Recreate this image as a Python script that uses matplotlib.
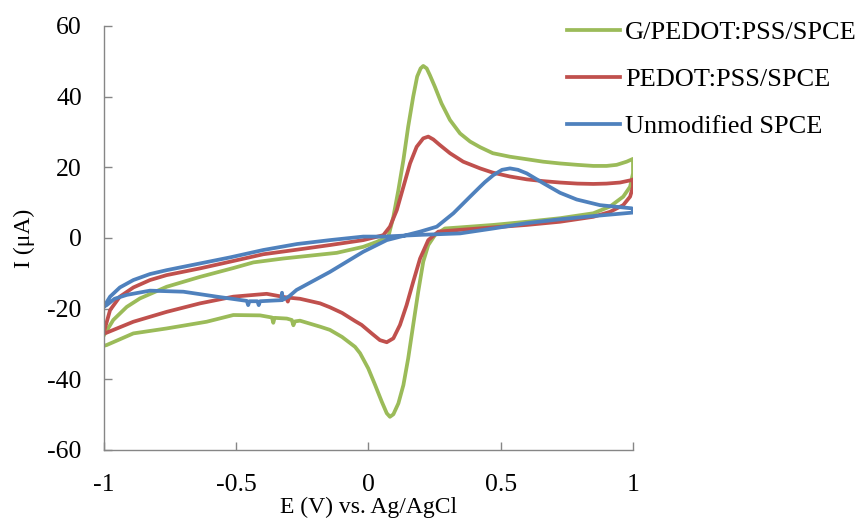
import matplotlib
matplotlib.use("Agg")
import matplotlib.pyplot as plt

plt.rcParams['font.family'] = ['Liberation Serif', 'DejaVu Serif']
plt.rcParams['axes.unicode_minus'] = False

# Cyclic voltammograms, each loop listed in scan order (E in V, I in uA)
g_E = [-1.0, -0.965, -0.914, -0.864, -0.763, -0.637, -0.511, -0.435, -0.322, -0.196,
       -0.12, -0.02, 0.031, 0.075, 0.094, 0.113, 0.132, 0.150, 0.169, 0.184,
       0.197, 0.207, 0.220, 0.232, 0.251, 0.276, 0.308, 0.346, 0.384, 0.422,
       0.47, 0.535, 0.598, 0.66, 0.724, 0.79, 0.85, 0.9, 0.938, 0.976,
       1.0, 1.0, 0.989, 0.963, 0.913, 0.85, 0.724, 0.598, 0.472, 0.346,
       0.289, 0.251, 0.226, 0.207, 0.188, 0.169, 0.150, 0.132, 0.113, 0.094,
       0.081, 0.069, 0.050, 0.025, -0.001, -0.032, -0.051, -0.1, -0.146, -0.183,
       -0.259, -0.278, -0.284, -0.29, -0.309, -0.355, -0.36, -0.365, -0.41, -0.511,
       -0.612, -0.763, -0.889, -0.99, -1.0]
g_I = [-27.5, -23.2, -19.5, -17.1, -13.8, -11.0, -8.5, -6.9, -5.8, -4.8,
       -4.2, -2.5, -1.1, 0.4, 6.0, 13.6, 22.1, 31.5, 40.0, 45.7,
       48.0, 48.7, 48.0, 46.1, 42.8, 38.1, 33.4, 29.6, 27.3, 25.7,
       24.0, 23.0, 22.3, 21.6, 21.1, 20.7, 20.4, 20.4, 20.7, 21.6,
       22.4, 18.3, 14.5, 11.7, 8.9, 7.0, 5.6, 4.6, 3.7, 3.0,
       2.7, 0.8, -2.0, -6.7, -15.2, -24.6, -34.1, -41.6, -46.8, -49.9,
       -50.6, -49.6, -46.3, -41.6, -36.9, -32.6, -30.8, -28.0, -26.0, -25.1,
       -23.4, -23.6, -24.7, -23.2, -22.8, -22.6, -24.0, -22.5, -21.9, -21.8,
       -23.7, -25.6, -27.0, -30.3, -30.5]

r_E = [-1.0, -0.977, -0.94, -0.889, -0.826, -0.763, -0.637, -0.511, -0.398, -0.27,
       -0.146, -0.02, 0.056, 0.081, 0.107, 0.132, 0.157, 0.182, 0.207, 0.226,
       0.245, 0.270, 0.308, 0.358, 0.422, 0.47, 0.535, 0.598, 0.66, 0.724,
       0.79, 0.85, 0.9, 0.951, 0.995, 1.0, 1.0, 0.989, 0.963, 0.913,
       0.85, 0.724, 0.598, 0.472, 0.346, 0.264, 0.226, 0.195, 0.169, 0.144,
       0.119, 0.094, 0.069, 0.043, 0.012, -0.026, -0.051, -0.1, -0.146, -0.183,
       -0.259, -0.3, -0.305, -0.312, -0.385, -0.511, -0.637, -0.763, -0.889, -0.99,
       -1.0]
r_I = [-26.5, -20.4, -16.6, -14.0, -11.9, -10.5, -8.6, -6.5, -4.6, -3.3,
       -2.0, -0.6, 0.8, 3.2, 7.9, 14.5, 21.1, 25.8, 28.2, 28.7,
       27.9, 26.3, 24.0, 21.6, 19.7, 18.5, 17.4, 16.6, 16.1, 15.7,
       15.4, 15.3, 15.4, 15.7, 16.4, 16.6, 14.5, 11.7, 9.3, 7.4,
       6.0, 4.6, 3.7, 3.0, 2.3, 1.8, -0.6, -5.8, -12.4, -19.0,
       -24.6, -28.4, -29.5, -28.9, -27.0, -24.6, -23.5, -21.2, -19.6, -18.5,
       -17.2, -16.9, -18.0, -16.8, -15.8, -16.6, -18.5, -20.9, -23.7, -26.8,
       -27.0]

b_E = [-1.0, -0.99, -0.96, -0.914, -0.826, -0.7, -0.574, -0.46, -0.455, -0.45,
       -0.42, -0.415, -0.41, -0.36, -0.33, -0.327, -0.324, -0.3, -0.272, -0.146,
       -0.02, 0.069, 0.195, 0.258, 0.321, 0.384, 0.422, 0.44, 0.472, 0.505,
       0.535, 0.565, 0.598, 0.661, 0.724, 0.787, 0.875, 0.995, 1.0, 1.0,
       0.85, 0.724, 0.598, 0.472, 0.346, 0.2, 0.056, -0.02, -0.146, -0.27,
       -0.398, -0.524, -0.637, -0.763, -0.826, -0.889, -0.94, -0.977, -1.0]
b_I = [-19.4, -19.0, -17.2, -16.1, -14.9, -15.2, -16.6, -17.8, -19.0, -17.9,
       -17.9, -19.0, -17.9, -17.7, -17.6, -15.5, -17.5, -16.5, -14.7, -9.6,
       -3.9, -0.6, 1.8, 3.2, 7.0, 11.7, 14.5, 15.8, 17.8, 19.3,
       19.7, 19.3, 18.3, 15.5, 12.8, 10.9, 9.3, 8.4, 8.2, 7.2,
       6.2, 5.3, 4.2, 2.7, 1.3, 0.9, 0.4, 0.4, -0.6, -1.7,
       -3.4, -5.5, -7.2, -9.1, -10.2, -11.9, -14.0, -16.6, -19.4]

labels = ['G/PEDOT:PSS/SPCE', 'PEDOT:PSS/SPCE', 'Unmodified SPCE']
colors = ['#9BBB59', '#C0504D', '#4F81BD']

x_ticks = [-1, -0.5, 0, 0.5, 1]
x_ticklabels = ['-1', '-0.5', '0', '0.5', '1']
y_ticks = [-60, -40, -20, 0, 20, 40, 60]

fig = plt.figure(figsize=(8.65, 5.27), dpi=100)
ax = fig.add_axes([104 / 865, 1 - 450 / 527, (633 - 104) / 865, (450 - 26) / 527])

for E, I, lab, c in zip([g_E, r_E, b_E], [g_I, r_I, b_I], labels, colors):
    ax.plot(E, I, color=c, lw=2.7, label=lab, solid_joinstyle='round')

ax.set_xlim(-1, 1)
ax.set_ylim(-60, 60)
ax.set_xticks(x_ticks)
ax.set_xticklabels(x_ticklabels)
ax.set_yticks(y_ticks)
ax.set_yticklabels([str(v) for v in y_ticks])

for side in ['top', 'right']:
    ax.spines[side].set_visible(False)
for side in ['left', 'bottom']:
    ax.spines[side].set_color('#868686')
    ax.spines[side].set_linewidth(1.0)

ax.tick_params(axis='both', direction='in', length=6, width=1.0, color='#868686',
               labelsize=18.5, labelcolor='black')
ax.tick_params(axis='y', pad=16)
ax.tick_params(axis='x', pad=17)

ax.set_xlabel('E (V) vs. Ag/AgCl', fontsize=17, labelpad=1)
ax.set_ylabel('I (\u03bcA)', fontsize=17, labelpad=9)

fig.legend(loc='upper left', bbox_to_anchor=(567 / 865, 1 - 21 / 527), frameon=False,
           fontsize=19, handlelength=2.0, handletextpad=0.2, labelspacing=0.88,
           borderpad=0, borderaxespad=0)

fig.savefig('out.png', dpi=100)
